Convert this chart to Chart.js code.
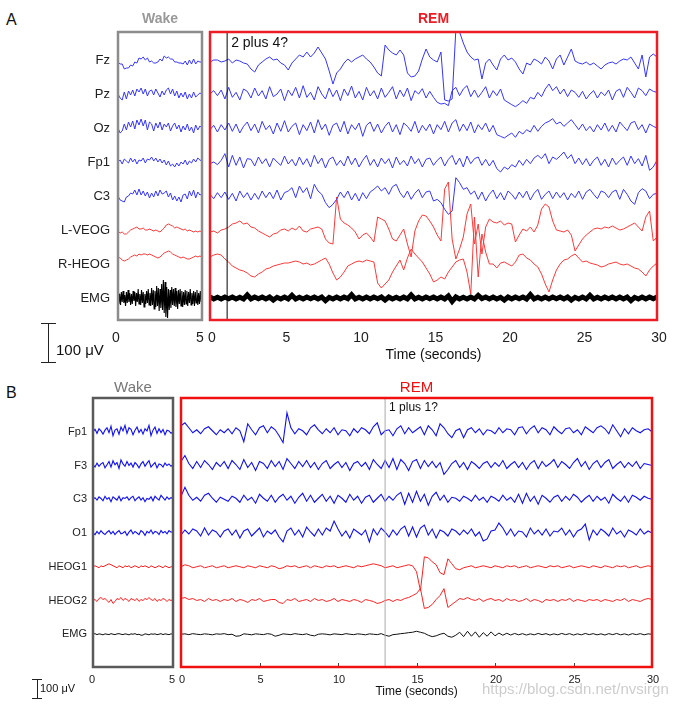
<!DOCTYPE html>
<html>
<head>
<meta charset="utf-8">
<script src="https://cdn.jsdelivr.net/npm/chart.js@4.4.1/dist/chart.umd.min.js"></script>
<style>
  body { margin: 0; background: #fff; width: 686px; height: 707px; position: relative; overflow: hidden;
         font-family: "Liberation Sans", Arial, Helvetica, sans-serif; color: #111; }
  canvas { position: absolute; }
  .txt { position: absolute; white-space: nowrap; line-height: 1; }
  .bar { position: absolute; background: #222; }
</style>
</head>
<body>
<div class="txt" style="left:6px;top:12px;font-size:16px">A</div>
<div class="txt" style="left:6px;top:385px;font-size:16px">B</div>

<canvas id="aWake" width="210" height="370" style="left:0;top:0"></canvas>
<canvas id="aRem" width="486" height="370" style="left:200px;top:0"></canvas>
<canvas id="bWake" width="180" height="337" style="left:0;top:370px"></canvas>
<canvas id="bRem" width="510" height="337" style="left:176px;top:370px"></canvas>

<!-- scale bars -->
<div class="bar" style="left:48px;top:323px;width:1px;height:40px"></div>
<div class="bar" style="left:41px;top:323px;width:15px;height:1px"></div>
<div class="bar" style="left:41px;top:362px;width:15px;height:1px"></div>
<div class="txt" style="left:56px;top:342px;font-size:15px">100 μV</div>

<div class="bar" style="left:37px;top:679px;width:1px;height:20px"></div>
<div class="bar" style="left:32px;top:679px;width:10px;height:1px"></div>
<div class="bar" style="left:32px;top:698px;width:10px;height:1px"></div>
<div class="txt" style="left:40px;top:683px;font-size:11px">100 μV</div>

<div class="txt" style="left:482px;top:681px;font-size:15px;color:#cdcdcd">https://blog.csdn.net/nvsirgn</div>

<script>
// ---------- panel A (values in μV, Wake 0-5 s, REM 0-30 s) ----------
const aChannels = ['Fz', 'Pz', 'Oz', 'Fp1', 'C3', 'L-VEOG', 'R-HEOG', 'EMG'];
const aOffsets = [714, 612, 510, 408, 306, 204, 102, 0];
const aMarkerTime = 1.15;

const aWakeFz = [-6, -12, -12, -27, -24, -24, -15, -18, -6, -9, 6, 3, 9, 0, 6, -6, -3, -9, -9, -6,
  3, -3, 12, 6, 9, 3, 3, -6, -6, -9, -9, -12, -3, -15, 0, -12, 3, -12, -3, -6, -6];
const aWakePz = [0, -12, -18, 6, -15, 9, -3, 12, -6, 15, 6, 18, 0, 15, -6, 9, 12, -3, 15, 3,
  -9, 9, -3, 12, 18, 0, 15, -6, 9, -12, 3, -9, 6, -15, 0, -12, 6, -9, -3, 3, 0];
const aWakeOz = [0, -15, -9, 12, -6, 18, 3, 21, -3, 24, 9, 27, 6, 24, -6, 18, 12, -9, 15, 0,
  18, -6, 12, 3, 15, -9, 6, 15, -3, 9, -12, 6, -6, 12, -9, 3, -15, 9, -6, 6, 0];
const aWakeFp1 = [0, 6, -6, 9, 3, -3, 12, 0, 9, -6, 6, 3, 12, -3, 9, 6, 15, 3, 12, 0,
  9, -3, 6, -9, 3, -12, -6, -15, -3, -12, 0, -6, 6, -9, 3, -3, 9, 0, 12, 6, 3];
const aWakeC3 = [0, -12, -15, -18, -3, 0, 9, 6, 18, 3, 21, 3, 15, 0, 12, -6, 9, -3, 15, 0,
  18, 6, 9, 15, -3, 9, -12, 0, -15, -3, -18, 3, 6, -9, 15, 0, 18, -6, 12, 3, 6];
const aWakeLVeog = [-3, -9, -6, -12, -12, -6, 0, 3, 6, 9, 3, 3, 6, 0, 0, 3, 0, -3, 0, -3,
  -6, 0, 6, 15, 18, 15, 12, 6, 9, 6, 3, 0, 3, -3, 0, -3, -6, -3, -6, -3, -6];
const aWakeRHeog = [21, 18, 12, 9, 12, 15, 21, 24, 27, 24, 30, 27, 30, 30, 27, 30, 27, 24, 21, 18,
  21, 27, 33, 36, 39, 36, 30, 27, 24, 21, 18, 21, 18, 15, 15, 18, 21, 24, 21, 24, 21];
const aWakeEmg = [
  15, -18, 12, -21, 18, -12, 21, -15, 9, -24, 18, -15, 24, -12, 15, -21, 12, -18, 21, -9,
  18, -24, 15, -12, 27, -18, 12, -21, 24, -15, 18, -27, 12, -18, 21, -15, 27, -21, 15, -24,
  30, -21, 24, -33, 21, -27, 36, -24, 30, -39, 27, -30, 42, -36, 54, -45, 48, -57, 33, -60,
  27, -36, 24, -30, 33, -21, 27, -24, 30, -27, 21, -33, 24, -18, 27, -24, 21, -27, 18, -21,
  24, -18, 21, -24, 18, -15, 27, -21, 15, -18, 21, -24, 18, -15, 24, -21, 15, -18, 21, -12,
  15];

const aRemFz = [
  -6, 0, 0, -6, -3, 3, -9, 0, -3, -9, -12, -27,
  -36, -15, -6, 3, 9, 0, 3, -9, -15, -30, -9, 3,
  15, 9, 24, 9, 21, 39, 21, 3, -33, -72, -39, -27,
  -9, 3, -6, 3, 9, 15, 3, -6, -21, -39, -48, 45,
  30, 21, 15, 30, 15, -39, -51, -48, -33, 3, 33, 9,
  0, -6, 24, -120, -123, -117, 90, 84, 51, 24, 9, 0,
  3, -57, -9, 3, -15, -30, 3, 15, 0, 6, -6, -27,
  -42, -9, -15, 3, -3, -12, 9, -3, -27, 3, 15, -15,
  9, 33, -3, -9, -12, -6, -15, -9, -18, -27, -15, -9,
  -6, -12, -3, 3, 0, 9, -9, -27, 15, -51, 9, 18,
  9];
const aRemPz = [
  0, 10, -5, 12, -15, 20, -10, 5, -18, 15, 8, -12,
  18, -6, 10, -15, 22, -8, 0, 15, -20, 12, -5, 20,
  -12, 25, -10, 5, -18, 22, 0, -15, 18, -8, 12, -20,
  15, -5, 24, -12, 8, -18, 20, -6, 10, -15, 18, -10,
  5, 22, -15, 12, -8, 18, -20, 10, 0, 16, -12, 8,
  -10, -25, -30, -28, -35, 10, 20, -5, 15, 25, -8, 12,
  -10, 5, 22, -12, 10, -5, 15, -18, -25, -32, -38, -30,
  -20, -28, -10, -15, 5, -8, 15, 30, 10, 22, 0, 15,
  -8, 12, 5, -10, 8, -15, 0, 10, -12, 6, -5, 12,
  -18, 8, 15, -10, 20, 5, -12, 18, 10, -5, 15, 8,
  5];
const aRemOz = [
  -5, 8, -12, 10, -6, 15, -10, 12, -15, 5, 18, -8,
  12, -15, 20, -5, 8, -18, 15, -10, 22, -12, 5, 15,
  -20, 10, -8, 18, -15, 25, -5, 12, -22, 8, 15, -12,
  20, -18, 10, -5, 15, -25, 8, 18, -10, 12, -15, 5,
  18, -12, 10, -20, 15, 5, -10, 20, -15, 8, -8, 12,
  -18, 10, -5, 20, -12, 15, 25, -10, 12, -8, 18, -15,
  10, -5, 15, -12, 8, -20, -25, -30, -22, -15, -28, -10,
  -18, -5, -12, 8, -10, 5, 15, 20, 28, 12, 18, 5,
  15, 25, 10, -5, 12, -8, 5, -12, 10, -6, 15, -10,
  8, -12, 18, 5, -8, 15, 20, -5, 10, -15, 12, 5,
  0];
const aRemFp1 = [
  -5, 0, -8, 5, 25, -15, 20, -10, 15, -18, 10, 8,
  -12, 15, -5, 10, -15, 12, 0, -10, 18, -6, 8, -12,
  15, -8, 10, -15, 20, -5, 12, -18, 8, 15, -10, 5,
  -12, 18, -8, 12, -15, 5, 20, -10, 8, -15, 12, -5,
  10, -18, 15, -8, 5, -12, 18, -5, 10, -15, 8, 12,
  -10, 5, 15, -12, 8, 20, -8, 12, -15, 18, -5, 10,
  15, -10, 8, -12, 5, -20, -30, -15, -22, -8, -15, 5,
  -10, 8, -5, 12, 20, 10, 25, -5, 15, 8, 18, 30,
  10, 22, -5, 12, -8, 10, -12, 5, 15, -10, 8, -15,
  12, -8, 5, 15, -10, 18, -5, 10, -12, 20, -25, -15,
  5];
const aRemC3 = [
  5, -8, 10, -5, 12, -10, 8, -15, 15, -5, 10, -12,
  8, -10, 15, -5, 12, -8, 18, -12, 10, 15, 25, -5,
  30, 10, 25, -8, 35, 15, 5, -20, -35, -25, -10, 12,
  -5, 15, -12, 8, -15, 10, -8, 12, 20, 30, 15, 25,
  5, 28, 35, 10, -5, 15, -10, 8, 20, -5, 12, 15,
  -15, -10, -20, -40, -55, -45, 55, 40, 20, 25, 5, 15,
  -10, 12, -15, 5, 18, -8, 10, -12, 15, 5, -10, 12,
  -5, 15, -12, 8, 20, -10, 5, 15, -8, 12, -5, 10,
  -12, 8, -5, 15, -10, 12, 20, 5, -8, 15, 10, -5,
  12, 18, -10, 20, 5, -15, -25, 10, 22, 15, -8, 5,
  8];
const aRemLVeog = [
  -6, -3, -9, 0, 3, 9, 18, 21, 27, 18, 21, 9,
  6, -3, -9, -15, -21, -12, -9, 0, 3, -3, 6, 0,
  12, -3, -6, 3, 6, 9, 3, -27, -39, -42, 99, 33,
  21, 15, 6, -6, -27, -15, -9, -21, -36, 39, 33, 27,
  3, -27, -33, -15, 3, -42, -81, -3, 27, 45, 42, 27,
  9, -15, -33, 123, 144, -27, -87, -57, -21, 48, 78, -42,
  18, -72, 9, 33, 24, 21, 27, 15, 21, 18, -36, -15,
  3, -3, 9, -6, 15, 63, 78, 69, 27, 0, -3, -6,
  0, -15, -63, -45, -27, -15, -6, 3, 6, 3, 9, 6,
  12, 6, 0, 3, 9, 15, 21, 9, -3, 39, 57, -33,
  -21];
const aRemRHeog = [
  21, 27, 30, 27, 15, 6, -6, -12, -18, -21, -27, -36,
  -39, -30, -24, -15, -12, -6, -3, 0, 3, 3, 6, 9,
  6, 0, 3, -3, 0, 6, 12, 18, 0, -27, -48, -39,
  -24, -6, 0, 6, 9, 6, 12, 9, 6, -57, -72, -60,
  -48, -24, -6, 12, -18, 18, 45, 30, 18, 6, -12, -30,
  -54, -48, -39, -45, -24, -9, 6, 12, 15, -24, -90, 141,
  -39, 90, 36, 0, 0, -12, 3, 6, 0, -6, 6, 27,
  30, 18, 12, 0, -9, -30, -60, -84, -48, -18, 0, 12,
  15, 24, 30, 18, 6, 9, 3, 0, -3, -9, -6, 0,
  3, 6, 0, -3, 0, -6, -12, -15, -24, -36, -18, -6,
  3];
const aRemEmg = [
  3, -3, 2, -3, 3, -2, 3, -3, 2, -3, 9, -3,
  3, -2, 3, -3, 3, -6, 2, -3, 3, -3, 8, -3,
  2, -3, 3, -2, 3, -3, 3, -8, 2, -3, 3, -3,
  3, -2, 10, -3, 2, -3, 3, -3, 3, -2, 3, -6,
  3, -3, 2, -3, 3, -3, 9, -3, 2, -3, 3, -2,
  3, -3, 3, -3, 6, -10, 3, -3, 2, -3, 3, -3,
  8, -2, 3, -3, 3, -3, 2, -6, 3, -3, 3, -2,
  3, -3, 10, -3, 2, -3, 3, -3, 3, -2, 3, -3,
  3, -6, 2, -3, 3, -3, 8, -3, 2, -3, 3, -2,
  3, -3, 3, -3, 3, -8, 2, -3, 3, -3, 3, -2,
  3];

// ---------- panel B ----------
const bChannels = ['Fp1', 'F3', 'C3', 'O1', 'HEOG1', 'HEOG2', 'EMG'];
const bOffsets = [1020, 850, 680, 510, 340, 170, 0];
const bMarkerTime = 13.0;

const bWakeFp1 = [0, 12, -8, 15, 4, -12, 8, 20, -4, 28, -20, 8, 15, -12, 24, 4, 32, -8, 20, 12,
  -15, 8, 24, -4, 12, -12, 15, 4, 32, -20, 8, 24, -8, 15, -4, 12, -15, 8, 4, -8, 0];
const bWakeF3 = [4, -8, 12, -4, 8, 15, -12, 4, 20, -8, 24, 4, 15, -15, 28, 8, -4, 20, 0, 12,
  -8, 15, 4, -12, 8, 20, -4, 12, 24, -8, 4, 15, -12, 8, 4, -8, 12, 0, 8, -4, 4];
const bWakeC3 = [0, 8, -4, 12, 4, -8, 15, 0, 8, -12, 12, 4, -4, 15, -8, 8, 4, 12, -4, 8,
  15, -8, 4, 12, -4, 8, -12, 4, 0, 12, -8, 15, 4, -4, 20, 8, -4, 12, 0, 8, 4];
const bWakeO1 = [0, -8, 8, -4, 12, 0, -8, 4, 12, -4, 8, -8, 4, 12, -4, 0, 8, -12, 4, 15,
  -4, 8, 0, -8, 12, 4, -12, 8, 0, 15, -4, 8, 4, -8, 12, 0, 8, -4, 12, 4, 8];
const bWakeHeog1 = [0, 5, 0, -5, 5, 0, 5, 10, 15, 10, 5, 0, -5, 5, 0, -5, 5, 0, 5, -5,
  0, 5, 0, -5, 5, 0, 5, 0, -5, 5, 0, -5, 0, 5, 0, -5, 5, 0, -5, 0, 0];
const bWakeHeog2 = [0, 5, -5, 10, 15, 5, 10, 0, -10, 5, -15, -5, 10, 5, 15, 0, 10, 5, -5, 10,
  5, 0, 10, -5, 5, 0, 10, 5, 15, 5, 0, 10, -5, 5, 0, 10, 5, -5, 5, 0, 5];
const bWakeEmg = [0, 3, -2, 2, 0, -3, 2, 0, -2, 3, 0, -2, 2, 3, 0, -2, 2, 0, -3, 2,
  0, 3, -2, 0, -5, -4, 2, 0, -3, 2, 0, 2, -2, 0, 3, -2, 2, 0, -2, 2, 0];

const bRemFp1 = [
  30, 45, 20, -5, 10, -10, 15, 25, 5, -15, 10, -5,
  15, -10, 20, 5, -50, 40, 10, -15, 20, 30, -5, 25,
  10, -20, -55, 95, 20, -10, 15, 5, -15, 20, 35, 10,
  -10, 15, -5, 20, -15, 10, 5, -20, 15, -5, 20, 10,
  -10, 25, 45, -15, 5, 10, -20, 15, 30, -10, 20, -5,
  10, 25, -15, 30, 10, -20, 40, 20, -10, -30, 5, 15,
  -30, 10, 20, -5, 15, -15, 10, 5, -10, 20, -5, 15,
  10, -15, 20, 25, -10, 15, 30, -5, 20, 10, -15, 25,
  5, -10, 15, 20, -5, 10, -15, 25, 10, -5, 20, 30,
  15, -10, 35, 5, -25, 15, -10, 20, 5, -5, 10, 15,
  0];
const bRemF3 = [
  20, 50, 10, -15, 20, -10, 25, 5, -20, 15, -5, 20,
  -15, 25, 5, -20, 30, -10, 15, -25, 20, 10, -15, 25,
  -5, 20, -20, 35, 10, -15, 20, -5, 25, -10, 15, -20,
  10, 25, -15, 5, 20, -10, 15, -25, 10, 20, -5, 15,
  -20, 30, 5, -15, 25, -10, 35, -20, 30, 10, -25, 20,
  30, -15, 25, -5, 20, -10, 15, -45, -20, 10, 25, -10,
  15, -20, 20, 5, -15, 10, 20, -10, 15, -5, 25, -15,
  5, 20, -10, 15, -20, 10, 25, -15, 20, -5, 10, 30,
  -10, 20, 5, -15, 15, 35, -5, 20, -20, 10, 25, -10,
  15, 30, -15, 5, 20, -10, 15, -5, 20, -15, 10, 5,
  0];
const bRemC3 = [
  15, 60, 20, -5, 10, -10, 20, 30, 5, -15, 10, 0,
  -10, 15, 5, -15, 20, -5, 10, -20, 25, 5, -10, 20,
  -15, 10, 25, -5, 15, -20, 10, 30, -10, 20, -15, 5,
  25, -10, 15, -20, 20, 5, -15, 25, -5, 15, -20, 10,
  20, -15, 5, 25, -10, 15, -5, 20, 35, -25, 30, -15,
  40, -10, 25, -30, 15, 35, -5, 20, -15, 10, 5, -10,
  15, 5, -10, 20, -5, 10, -15, 15, 5, -10, 20, -5,
  10, -15, 25, -20, 30, -10, 15, -25, 20, 5, -15, 10,
  20, -10, 15, -5, 25, 10, -15, 5, 20, -10, 15, -5,
  10, -20, 25, 5, -10, 15, -15, 20, 10, -5, 15, 5,
  0];
const bRemO1 = [
  -10, 15, -5, 20, 10, -15, 25, -10, 15, 5, -20, 10,
  20, -10, 15, -25, 10, 20, -15, 5, 25, -20, 10, -5,
  15, -20, -45, 10, 25, -10, 15, -20, 30, 5, -15, 20,
  -10, 25, 10, 60, 20, -15, 10, -25, 20, 5, -10, 15,
  -45, 20, -10, 25, 5, -20, 15, -10, 20, 35, -15, 30,
  -20, 25, 40, -10, 20, -25, 15, 5, -15, 20, 10, -10,
  15, -5, 20, -15, 5, -40, -30, 10, 15, 50, 25, -10,
  20, -15, 10, 5, -20, 25, -5, 15, -10, 20, -15, 10,
  5, 25, -10, 15, -20, 10, 20, 45, -35, 15, -10, 20,
  5, -15, 25, -5, 10, -20, 15, 5, -10, 20, -5, 10,
  0];
const bRemHeog1 = [
  0, 10, 5, -5, 0, 5, -5, 0, 5, -5, 0, 5,
  -5, 0, 5, 0, -5, 5, 0, -5, 5, 0, -5, 5,
  0, -10, -5, 5, 0, 5, -5, 0, 5, -5, 5, 0,
  -5, 5, 0, 5, -5, 0, 5, 0, -5, 5, 0, 5,
  10, 15, 10, 5, -5, 0, 5, -5, 0, 5, 10, 5,
  -25, -120, 50, 45, 25, 10, -30, -40, 40, 15, -10, -15,
  -5, 0, 5, -5, 0, 5, 0, -5, 5, 0, -5, 5,
  0, 5, -5, 0, 5, -5, 0, 5, 0, -5, 5, 0,
  5, -5, 0, 5, -5, 0, 5, 0, -5, 5, 0, -5,
  5, 0, -5, 5, 0, 5, -5, 0, 5, -5, 0, 5,
  0];
const bRemHeog2 = [
  10, 15, 5, 10, 0, 5, -5, 10, 0, 5, -5, 5,
  0, 10, -5, 5, 0, -10, 5, 0, 10, -5, 0, 5,
  5, -10, -15, 5, 0, 10, -5, 0, 5, -5, 10, 0,
  5, -5, 0, 10, -5, 5, 0, -5, 5, 0, -10, 5,
  0, -5, -15, -10, 0, 5, -5, 5, 0, 10, 15, 25,
  35, 60, -40, -35, -20, 5, 25, 60, -35, -20, -5, 10,
  5, 15, 5, 0, 10, -5, 5, 10, 0, 5, -5, 10,
  0, 5, -5, 0, 10, -5, 5, 0, -10, 5, 0, 5,
  -5, 5, 0, 10, -5, 5, 0, -5, 5, 0, 5, -5,
  5, 0, -5, 5, 0, 10, -5, 5, 0, -5, 5, 10,
  5];
const bRemEmg = [
  0, 2, -2, 3, 0, -2, 2, 0, -3, 2, 0, 3,
  -2, 0, -10, -8, 2, 0, -3, 2, 0, -2, 3, 0,
  -10, -5, 2, 0, -2, 3, 0, -2, 2, -5, -8, 0,
  2, 0, -3, 2, 0, -2, 3, 0, -2, 2, 0, -3,
  2, 0, -2, 3, -5, -10, -2, 0, 3, 5, 8, 10,
  15, 10, 5, -5, -12, -8, 0, 5, -10, -15, -5, 10,
  -12, 15, -10, 12, -15, 8, -10, 12, -8, 6, -5, 5,
  -4, 4, -3, 3, -4, 2, -3, 4, -2, 3, -4, 2,
  -3, 4, -2, 3, -4, 2, -3, 4, -2, 3, -3, 2,
  -4, 3, -2, 4, -3, 2, -4, 3, -2, 3, -3, 2,
  0];

Chart.defaults.font.family = '"Liberation Sans", Arial, Helvetica, sans-serif';

// draws the frame, title, marker line and axis caption of each sub-plot
const framePlugin = {
  id: 'frame',
  afterDatasetsDraw(chart, args, o) {
    const ctx = chart.ctx, a = chart.chartArea, xs = chart.scales.x;
    ctx.save();
    if (o.markerText) {
      const mx = xs.getPixelForValue(o.marker);
      ctx.strokeStyle = o.markerColor;
      ctx.lineWidth = 1;
      ctx.beginPath(); ctx.moveTo(mx, a.top); ctx.lineTo(mx, a.bottom); ctx.stroke();
      ctx.fillStyle = '#111';
      ctx.font = o.markerFont;
      ctx.textAlign = 'left'; ctx.textBaseline = 'middle';
      ctx.fillText(o.markerText, mx + 4, a.top + o.markerGap);
    }
    if (o.innerTicks) {
      ctx.strokeStyle = '#444'; ctx.lineWidth = 1;
      xs.ticks.forEach(t => {
        const tx = Math.round(xs.getPixelForValue(t.value)) + 0.5;
        ctx.beginPath(); ctx.moveTo(tx, a.bottom); ctx.lineTo(tx, a.bottom - 4); ctx.stroke();
      });
    }
    ctx.strokeStyle = o.color;
    ctx.lineWidth = o.lineWidth;
    ctx.strokeRect(a.left, a.top, a.right - a.left, a.bottom - a.top);
    ctx.fillStyle = o.titleColor;
    ctx.font = o.titleFont;
    ctx.textAlign = 'center'; ctx.textBaseline = 'middle';
    ctx.fillText(o.title, (a.left + a.right) / 2, a.top - o.titleGap);
    if (o.xLabel) {
      ctx.fillStyle = '#111';
      ctx.font = o.xLabelFont;
      ctx.fillText(o.xLabel, (a.left + a.right) / 2, a.bottom + o.xLabelGap);
    }
    ctx.restore();
  }
};

function eegChart(id, p) {
  const datasets = p.series.map((vals, i) => ({
    data: vals.map((v, k) => ({ x: k * p.duration / (vals.length - 1), y: p.offsets[i] + v })),
    borderColor: p.colors[i],
    borderWidth: p.widths[i],
    pointRadius: 0,
    tension: 0
  }));
  return new Chart(document.getElementById(id).getContext('2d'), {
    type: 'line',
    data: { datasets },
    options: {
      responsive: false,
      animation: false,
      events: [],
      layout: { padding: p.padding },
      plugins: { legend: { display: false }, tooltip: { enabled: false }, frame: p.frame },
      scales: {
        x: {
          type: 'linear', min: 0, max: p.duration,
          // fixed height, and no extra side padding for the edge labels
          afterFit: s => { s.height = p.xHeight; s.paddingLeft = 0; s.paddingRight = 0; },
          grid: { display: false, drawTicks: false }, border: { display: false },
          ticks: { stepSize: 5, autoSkip: false, maxRotation: 0, padding: p.tickPad,
                   labelOffset: p.labelShift || 0, font: { size: p.tickSize }, color: '#222' }
        },
        y: {
          type: 'linear', display: !!p.names, min: p.yMin, max: p.yMax,
          afterFit: s => { if (p.names) s.width = p.yWidth; },
          afterBuildTicks: s => { s.ticks = p.offsets.map(v => ({ value: v })); },
          grid: { display: false, drawTicks: false }, border: { display: false },
          ticks: { padding: p.namePad || 0, font: { size: p.nameSize || 12 }, color: '#222',
                   callback: (v, i) => p.names ? p.names[i] : '' }
        }
      }
    },
    plugins: [framePlugin]
  });
}

const blueA = '#3535ff', redA = '#ff3838';
const aColors = [blueA, blueA, blueA, blueA, blueA, redA, redA, '#000'];
const blueB = '#1010f0', redB = '#ff2020';
const bColors = [blueB, blueB, blueB, blueB, redB, redB, '#111'];

eegChart('aWake', {
  duration: 5, names: aChannels, offsets: aOffsets, yMin: -66, yMax: 798,
  series: [aWakeFz, aWakePz, aWakeOz, aWakeFp1, aWakeC3, aWakeLVeog, aWakeRHeog, aWakeEmg],
  colors: aColors, widths: [1, 1, 1, 1, 1, 1, 1, 1.1],
  padding: { top: 32, right: 8, bottom: 0, left: 0 }, xHeight: 50, yWidth: 118,
  tickPad: 10, tickSize: 14, labelShift: -2, namePad: 8, nameSize: 13,
  frame: { color: '#8c8c8c', lineWidth: 2.5, title: 'Wake', titleColor: '#999',
           titleFont: 'bold 14px "Liberation Sans", Arial', titleGap: 13 }
});
eegChart('aRem', {
  duration: 30, offsets: aOffsets, yMin: -66, yMax: 798,
  series: [aRemFz, aRemPz, aRemOz, aRemFp1, aRemC3, aRemLVeog, aRemRHeog, aRemEmg],
  colors: aColors, widths: [1, 1, 1, 1, 1, 1, 1, 5],
  padding: { top: 32, right: 29, bottom: 0, left: 10 }, xHeight: 50,
  tickPad: 10, tickSize: 14, labelShift: 2,
  frame: { color: '#ee1c24', lineWidth: 2.5, title: 'REM', titleColor: '#ee1c24',
           titleFont: 'bold 14px "Liberation Sans", Arial', titleGap: 13,
           marker: aMarkerTime, markerColor: '#000', markerText: '2 plus 4?',
           markerFont: '14px "Liberation Sans", Arial', markerGap: 11,
           xLabel: 'Time (seconds)', xLabelFont: '14px "Liberation Sans", Arial', xLabelGap: 35 }
});
eegChart('bWake', {
  duration: 5, names: bChannels, offsets: bOffsets, yMin: -165, yMax: 1190,
  series: [bWakeFp1, bWakeF3, bWakeC3, bWakeO1, bWakeHeog1, bWakeHeog2, bWakeEmg],
  colors: bColors, widths: [1.1, 1.1, 1.1, 1.1, 1, 1, 1],
  padding: { top: 28, right: 7, bottom: 0, left: 0 }, xHeight: 40, yWidth: 93,
  tickPad: 6, tickSize: 11, labelShift: -1, namePad: 6, nameSize: 11,
  frame: { color: '#5a5a5a', lineWidth: 2.5, title: 'Wake', titleColor: '#777',
           titleFont: '15px "Liberation Sans", Arial', titleGap: 10, innerTicks: true }
});
eegChart('bRem', {
  duration: 30, offsets: bOffsets, yMin: -165, yMax: 1190,
  series: [bRemFp1, bRemF3, bRemC3, bRemO1, bRemHeog1, bRemHeog2, bRemEmg],
  colors: bColors, widths: [1.1, 1.1, 1.1, 1.1, 1, 1, 1],
  padding: { top: 28, right: 34, bottom: 0, left: 5 }, xHeight: 40,
  tickPad: 6, tickSize: 11, labelShift: 1,
  frame: { color: '#f01010', lineWidth: 2.5, title: 'REM', titleColor: '#f01010',
           titleFont: '15px "Liberation Sans", Arial', titleGap: 10, innerTicks: true,
           marker: bMarkerTime, markerColor: '#aaa', markerText: '1 plus 1?',
           markerFont: '12px "Liberation Sans", Arial', markerGap: 10,
           xLabel: 'Time (seconds)', xLabelFont: '12px "Liberation Sans", Arial', xLabelGap: 25 }
});
</script>
</body>
</html>
